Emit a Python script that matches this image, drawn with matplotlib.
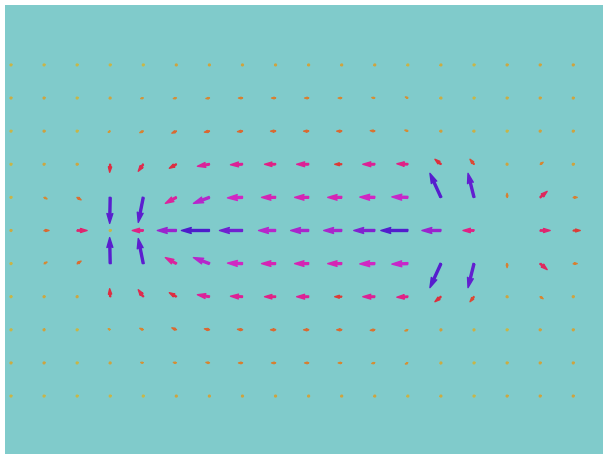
# Quiver field, arrows coloured by their length
import numpy as np
import matplotlib
matplotlib.use("Agg")
import matplotlib.pyplot as plt
from matplotlib.colors import LinearSegmentedColormap

# grid: 18 columns x 11 rows, row 0 at the top
cols = np.arange(18)
rows = np.arange(11)

# arrow components (pixels, v positive = up)
u_rows = [
    [0.3, 0.3, 0.1, 0.3, 0.1, -1.5, -1.5, -1.5, -1.5, -1.5, -1.5, -1.5, -0.4, -0.8, 0.2, 1.2, 1.5, 1.5],
    [0.8, 1.5, 0.2, -1.5, -2.5, -3, -3.5, -4, -4, -4, -3.5, -3, -2.5, -0.8, 0.2, 0.8, 1.5, 1.5],
    [0.3, 1.5, 0.2, -2, -3.5, -4.5, -5, -5, -5, -5, -5, -4.5, -3, -1.5, -0.5, 0.2, 1.5, 1.5],
    [0.2, 1.2, 1.2, -0.5, -5, -7, -12, -12, -11, -12, -7, -12, -11, -6, -4, 0.3, 3, 1.5],
    [0.3, 3, 4, -0.5, -5, -11, -16, -15, -14, -14, -14, -15, -16, -11, -6, 0, 7, 4],
    [1, 5, 10, 0.2, -11, -19, -28, -23, -17, -18, -18, -21, -27, -19, -11, np.nan, 10, 7],
    [0.3, 3, 4, -0.5, -5, -11, -16, -15, -14, -14, -14, -15, -16, -11, -6, 0, 7, 4],
    [0.2, 1.2, 1.2, -0.5, -5, -7, -12, -12, -11, -12, -7, -12, -11, -6, -4, 0.3, 3, 1.5],
    [0.3, 1.5, 0.2, -2, -3.5, -4.5, -5, -5, -5, -5, -5, -4.5, -3, -1.5, -0.5, 0.2, 1.5, 1.5],
    [0.8, 1.5, 0.2, -1.5, -2.5, -3, -3.5, -4, -4, -4, -3.5, -3, -2.5, -0.8, 0.2, 0.8, 1.5, 1.5],
    [0.3, 0.3, 0.1, 0.3, 0.1, -1.5, -1.5, -1.5, -1.5, -1.5, -1.5, -1.5, -0.4, -0.8, 0.2, 1.2, 1.5, 1.5],
]
v_rows = [
    [0, 0, 0, 0, 0, 0, 0, 0, 0, 0, 0, 0, 0, 0, 0, 0, 0, 0],
    [0, 0, 0, 0, -0.5, -0.5, -0.5, 0, 0, 0, 0, 0.5, 1, 0.3, 0, 0, 0, 0],
    [0, -0.5, 0, -1, -1.5, -2, -1, -0.5, 0, 0, 0, 0.5, 1, 1, 0.3, 0, 0.5, 0],
    [0, 0, -0.5, -8, -7, -4, -2, -0.5, 0, 0, 0, 0, 0.5, 5, 5, 1.5, 2, 0],
    [0, -1.5, -2.5, -26, -25, -6, -6, -0.5, 0, 0, 0, 0.3, 0.5, 24, 24, 4, 6, 0],
    [0, 0, 0, 0, 0, 0, 0, 0, 0, 0, 0, 0, 0, 0, 0, np.nan, 0, 0],
    [0, 1.5, 2.5, 26, 25, 6, 6, 0.5, 0, 0, 0, -0.3, -0.5, -24, -24, -4, -6, 0],
    [0, 0, 0.5, 8, 7, 4, 2, 0.5, 0, 0, 0, 0, -0.5, -5, -5, -1.5, -2, 0],
    [0, 0.5, 0, 1, 1.5, 2, 1, 0.5, 0, 0, 0, -0.5, -1, -1, -0.3, 0, -0.5, 0],
    [0, 0, 0, 0, 0.5, 0.5, 0.5, 0, 0, 0, 0, -0.5, -1, -0.3, 0, 0, 0, 0],
    [0, 0, 0, 0, 0, 0, 0, 0, 0, 0, 0, 0, 0, 0, 0, 0, 0, 0],
]

U = np.array(u_rows, dtype=float)
V = np.array(v_rows, dtype=float)
X, Y = np.meshgrid(cols, -rows)
M = np.hypot(U, V)

cmap = LinearSegmentedColormap.from_list("field", [
    (0.0, "#c8b848"), (0.14, "#d88030"), (0.27, "#dd3038"),
    (0.40, "#e0208a"), (0.55, "#d028c8"), (0.72, "#8a22d0"),
    (0.92, "#5a1ed0"), (1.0, "#4e1ccb")])

fig = plt.figure(figsize=(6.03, 4.54), dpi=100)
ax = fig.add_axes([5 / 603, 0, 598 / 603, 449 / 454])
ax.set_facecolor("#80cbcb")

ax.quiver(X, Y, U, V, M, cmap=cmap, clim=(0, 28),
          angles="xy", scale_units="xy", scale=33.07,
          units="width", width=0.0033, minshaft=1.5,
          linewidths=1.0, edgecolors="face")

ax.set_xlim(-0.18, 17.9)
ax.set_ylim(-11.75, 1.81)
ax.set_xticks([])
ax.set_yticks([])
for s in ax.spines.values():
    s.set_visible(False)

fig.savefig("out.png", dpi=100)
